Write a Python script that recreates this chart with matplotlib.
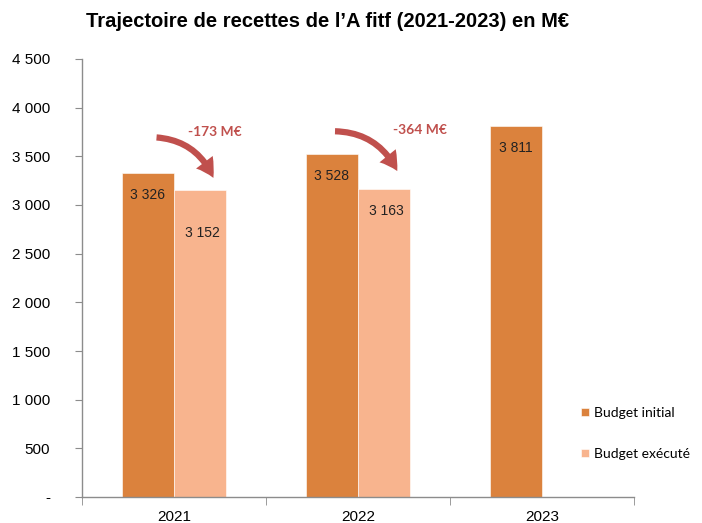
import numpy as np
import matplotlib.pyplot as plt
from matplotlib.ticker import FuncFormatter

years = ['2021', '2022', '2023']
budget_initial = [3326, 3528, 3811]
budget_execute = [3152, 3163, np.nan]
ecarts = ['-173 M€', '-364 M€']

c_init = '#DB823D'
c_exec = '#F8B48E'
c_arrow = '#C0504D'

fig = plt.figure(figsize=(7.02, 5.23), dpi=100)
ax = fig.add_axes([0.1168, 0.0497, 0.7863, 0.8375])

x = np.arange(len(years))
w = 0.283
b1 = ax.bar(x - w / 2, budget_initial, w, color=c_init, edgecolor='white', linewidth=0.4,
            label='Budget initial')
b2 = ax.bar(x + w / 2, budget_execute, w, color=c_exec, edgecolor='white', linewidth=0.4,
            label='Budget exécuté')

ax.set_xlim(-0.5, 2.5)
ax.set_ylim(0, 4500)
ax.set_yticks(np.arange(0, 4501, 500))

def fmt(v, pos):
    if v == 0:
        return '-'
    return f'{int(v):,}'.replace(',', ' ')

ax.yaxis.set_major_formatter(FuncFormatter(fmt))

# value labels inside bars
lab_font = dict(family='Liberation Sans', fontsize=10, color='#222222', ha='center', va='center')
for xi, v in zip(x, budget_initial):
    ax.annotate(f'{v:,}'.replace(',', ' '), (xi - w / 2, v), xytext=(0, -16),
                textcoords='offset points', **lab_font)
offs_exec = [-31, -16]
for xi, v, o in zip(x, budget_execute, offs_exec):
    ax.annotate(f'{int(v):,}'.replace(',', ' '), (xi + w * 0.55, v), xytext=(0, o),
                textcoords='offset points', **lab_font)

# curved arrows + gaps
for i, txt in enumerate(ecarts):
    top = budget_initial[i]
    low = budget_execute[i]
    ax.annotate('', xy=(i + 0.22, low + 100 + 60 * i), xytext=(i - 0.11 - 0.03 * i, top + 370 - 140 * i),
                arrowprops=dict(arrowstyle='simple,head_length=1.3,head_width=1.5,tail_width=0.45',
                                connectionstyle='arc3,rad=-0.32', color=c_arrow, lw=0))
    ax.text(i + 0.22 + 0.115 * i, max(top, low) + 420 - 180 * i, txt,
            family='Lato', fontweight='bold', fontsize=10, color=c_arrow, ha='center', va='center')

# axes styling
for s in ['top', 'right']:
    ax.spines[s].set_visible(False)
for s in ['left', 'bottom']:
    ax.spines[s].set_color('#8C8C8C')
    ax.spines[s].set_linewidth(1.0)

ax.tick_params(axis='y', length=5, color='#8C8C8C', pad=18, labelsize=11)
ax.set_xticks(x)
ax.set_xticklabels(years)
ax.tick_params(axis='x', length=0, pad=9, labelsize=11)
ax.set_xticks([-0.5, 0.5, 1.5, 2.5], minor=True)
ax.tick_params(axis='x', which='minor', length=6, color='#8C8C8C')
for lab in ax.get_xticklabels() + ax.get_yticklabels():
    lab.set_family('Liberation Sans')

fig.text(0.466, 0.958, 'Trajectoire de recettes de l’A fitf (2021-2023) en M€',
         family='Liberation Sans', fontweight='bold', fontsize=14.5, ha='center', va='center')

leg = ax.legend(loc='upper left', bbox_to_anchor=(0.818, 0.235), bbox_transform=fig.transFigure,
                frameon=False, handlelength=0.55, handleheight=0.55, handletextpad=0.35,
                labelspacing=2.1, borderpad=0, prop={'family': 'Lato', 'size': 10})

fig.savefig('out.png', dpi=100)
